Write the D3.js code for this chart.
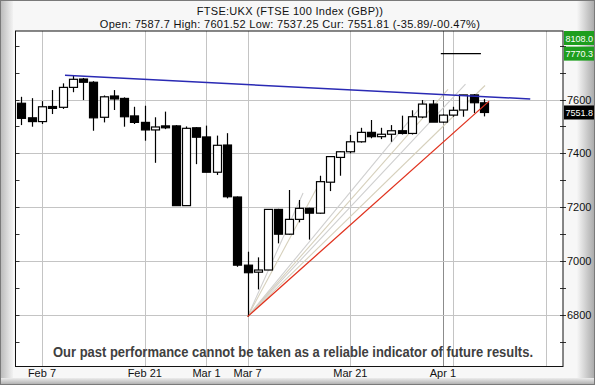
<!DOCTYPE html>
<html>
<head>
<meta charset="utf-8">
<script src="https://cdn.jsdelivr.net/npm/d3@7"></script>
<style>
  html, body { margin: 0; padding: 0; background: #fff; }
  svg { display: block; font-family: "Liberation Sans", Arial, sans-serif; }
</style>
</head>
<body>
<svg id="chart" width="595" height="385"></svg>
<script>
// daily candles, Feb 3 .. Apr 7 (trading day index = position)
const dates = ["Feb 3","Feb 4","Feb 7","Feb 8","Feb 9","Feb 10","Feb 11","Feb 14","Feb 15","Feb 16",
  "Feb 17","Feb 18","Feb 21","Feb 22","Feb 23","Feb 24","Feb 25","Feb 28","Mar 1","Mar 2",
  "Mar 3","Mar 4","Mar 7","Mar 8","Mar 9","Mar 10","Mar 11","Mar 14","Mar 15","Mar 16",
  "Mar 17","Mar 18","Mar 21","Mar 22","Mar 23","Mar 24","Mar 25","Mar 28","Mar 29","Mar 30",
  "Mar 31","Apr 1","Apr 4","Apr 5","Apr 6","Apr 7"];
const opens = [7586,7532,7518,7574,7571,7645,7676,7664,7534,7613,7604,7539,7515,7487,7502,7502,7206,7495,7461,7330,
  7431,7238,6985,6959,6967,7192,7100,7155,7196,7178,7293,7385,7406,7443,7478,7462,7471,7484,7474,7535,
  7583,7516,7542,7561,7617,7587.7];
const highs = [7610,7605,7594,7635,7660,7691,7680,7668,7615,7635,7608,7573,7577,7534,7555,7505,7500,7497,7503,7466,
  7475,7240,7035,7014,7192,7194,7264,7227,7198,7317,7390,7408,7468,7495,7524,7495,7505,7540,7560,7598,
  7598,7545,7573,7617,7620,7601.52];
const lows = [7505,7499,7509,7546,7565,7627,7598,7484,7515,7561,7499,7509,7447,7365,7490,7206,7206,7360,7330,7320,
  7233,6979,6794,6895,6967,7066,7098,7144,7080,7176,7260,7317,7400,7440,7456,7453,7443,7470,7470,7531,
  7518,7513,7536,7536,7550,7537.25];
const closes = [7530,7518,7573,7567,7645,7675,7664,7532,7610,7602,7536,7515,7487,7498,7495,7206,7493,7460,7330,7430,
  7239,6985,6957,6967,7192,7100,7155,7196,7178,7295,7388,7406,7443,7478,7462,7471,7484,7474,7536,7583,
  7516,7542,7560,7617,7588,7551.81];

// x axis
const tickIdx = [2, 12, 18, 22, 32, 41];
const tickLabels = ["Feb 7", "Feb 21", "Mar 1", "Mar 7", "Mar 21", "Apr 1"];
const gridIdx = [2, 12, 18, 22, 32, 42, 51];
const monthMarkIdx = [41];
// y axis
const yLabels = [6800, 7000, 7200, 7400, 7600];
const yMinor = [6700, 6800, 6900, 7000, 7100, 7200, 7300, 7400, 7500, 7600, 7700, 7800];

// drawn lines: [index, value]
const resistance = [[4.24, 7690], [49.5, 7602]];
const fanOrigin = [22, 6794];
const fanEnds = [[27.4, 7253], [29.0, 7290], [39.3, 7594], [41.5, 7638], [43.2, 7657], [45.1, 7652]];
const fanMain = [45.5, 7594];
const target = [[40.8, 7770], [44.7, 7770]];

// right side markers
const markerVals = [8108.03, 7770.30];
const current = 7551.81;

const svg = d3.select("#chart");
const W = 595, H = 385;
const plot = { left: 15.5, top: 31, right: 563, bottom: 366.5 };

const x = d3.scaleLinear().domain([0, 52]).range([21.4, 21.4 + 52 * 10.28]);
const y = d3.scaleLinear().domain([6800, 7600]).range([315, 99.5]);

// frame background
const defs = svg.append("defs");
const gradL = defs.append("linearGradient").attr("id", "gl").attr("x1", 0).attr("x2", 1);
gradL.append("stop").attr("offset", 0).attr("stop-color", "#b8b8b8");
gradL.append("stop").attr("offset", 1).attr("stop-color", "#f2f2f2");
const gradR = defs.append("linearGradient").attr("id", "gr").attr("x1", 0).attr("x2", 1);
gradR.append("stop").attr("offset", 0).attr("stop-color", "#f6f6f6");
gradR.append("stop").attr("offset", 1).attr("stop-color", "#a8a8a8");
const gradB = defs.append("linearGradient").attr("id", "gb").attr("x1", 0).attr("x2", 0).attr("y1", 0).attr("y2", 1);
gradB.append("stop").attr("offset", 0).attr("stop-color", "#ececec");
gradB.append("stop").attr("offset", 1).attr("stop-color", "#a8a8a8");

svg.append("rect").attr("width", W).attr("height", H).attr("fill", "#f7f7f7");
svg.append("rect").attr("x", 0).attr("y", 0).attr("width", 13).attr("height", H).attr("fill", "url(#gl)");
svg.append("rect").attr("x", 577).attr("y", 0).attr("width", 18).attr("height", H).attr("fill", "url(#gr)");
svg.append("rect").attr("x", 0).attr("y", 378).attr("width", W).attr("height", 7).attr("fill", "url(#gb)");
svg.append("rect").attr("x", 0.5).attr("y", 0.5).attr("width", W - 1).attr("height", H - 1)
  .attr("fill", "none").attr("stroke", "#7a7a7a");

// plot area
svg.append("rect")
  .attr("x", plot.left).attr("y", plot.top)
  .attr("width", plot.right - plot.left).attr("height", plot.bottom - plot.top)
  .attr("fill", "#fff");

const g = svg.append("g");

// grid
g.selectAll(".vgrid").data(gridIdx).enter().append("line")
  .attr("x1", (d) => Math.round(x(d)) + 0.5).attr("x2", (d) => Math.round(x(d)) + 0.5)
  .attr("y1", plot.top).attr("y2", plot.bottom)
  .attr("stroke", "#c4c4c4");
g.selectAll(".mgrid").data(monthMarkIdx).enter().append("line")
  .attr("x1", (d) => Math.round(x(d)) + 0.5).attr("x2", (d) => Math.round(x(d)) + 0.5)
  .attr("y1", plot.top).attr("y2", plot.bottom)
  .attr("stroke", "#8c8c8c");
g.selectAll(".hgrid").data(yLabels).enter().append("line")
  .attr("x1", plot.left).attr("x2", plot.right)
  .attr("y1", (d) => Math.round(y(d)) + 0.5).attr("y2", (d) => Math.round(y(d)) + 0.5)
  .attr("stroke", "#c4c4c4");

// small ticks on both sides
const inside = yMinor.filter((v) => y(v) > plot.top && y(v) < plot.bottom);
g.selectAll(".lt").data(inside).enter().append("line")
  .attr("x1", plot.left).attr("x2", plot.left + 4)
  .attr("y1", (d) => Math.round(y(d)) + 0.5).attr("y2", (d) => Math.round(y(d)) + 0.5)
  .attr("stroke", "#333");
g.selectAll(".rt").data(inside).enter().append("line")
  .attr("x1", plot.right - 3).attr("x2", plot.right + 3)
  .attr("y1", (d) => Math.round(y(d)) + 0.5).attr("y2", (d) => Math.round(y(d)) + 0.5)
  .attr("stroke", "#333");

// fan lines
g.selectAll(".fan").data(fanEnds).enter().append("line")
  .attr("x1", x(fanOrigin[0])).attr("y1", y(fanOrigin[1]))
  .attr("x2", (d) => x(d[0])).attr("y2", (d) => y(d[1]))
  .attr("stroke", (d, i) => (i % 2 ? "#d6d0bc" : "#cfcfcf"))
  .attr("stroke-width", 1.1);

// candles
const candles = dates.map((d, i) => ({ i, o: opens[i], h: highs[i], l: lows[i], c: closes[i] }));
const cw = 8;
const cg = g.selectAll(".candle").data(candles).enter().append("g");
cg.append("line")
  .attr("x1", (d) => Math.round(x(d.i)) + 0.5).attr("x2", (d) => Math.round(x(d.i)) + 0.5)
  .attr("y1", (d) => y(d.h)).attr("y2", (d) => y(d.l))
  .attr("stroke", "#000").attr("stroke-width", 1.2);
cg.append("rect")
  .attr("x", (d) => Math.round(x(d.i)) - cw / 2 + 0.5)
  .attr("y", (d) => y(Math.max(d.o, d.c)))
  .attr("width", cw)
  .attr("height", (d) => Math.max(1.5, y(Math.min(d.o, d.c)) - y(Math.max(d.o, d.c))))
  .attr("fill", (d) => (d.c >= d.o ? "#fff" : "#000"))
  .attr("stroke", "#000").attr("stroke-width", 1.2);

// trend lines
g.append("line")
  .attr("x1", x(resistance[0][0])).attr("y1", y(resistance[0][1]))
  .attr("x2", x(resistance[1][0])).attr("y2", y(resistance[1][1]))
  .attr("stroke", "#2a2ab4").attr("stroke-width", 1.5);
g.append("line")
  .attr("x1", x(fanOrigin[0])).attr("y1", y(fanOrigin[1]))
  .attr("x2", x(fanMain[0])).attr("y2", y(fanMain[1]))
  .attr("stroke", "#e0321e").attr("stroke-width", 1.3);
g.append("line")
  .attr("x1", x(target[0][0])).attr("y1", y(target[0][1]))
  .attr("x2", x(target[1][0])).attr("y2", y(target[1][1]))
  .attr("stroke", "#000").attr("stroke-width", 1.2);

// plot border
svg.append("rect")
  .attr("x", plot.left).attr("y", plot.top)
  .attr("width", plot.right - plot.left).attr("height", plot.bottom - plot.top)
  .attr("fill", "none").attr("stroke", "#111");

// right axis labels
svg.selectAll(".yl").data(yLabels).enter().append("text")
  .attr("x", 567).attr("y", (d) => y(d) + 4)
  .attr("font-size", 11).attr("fill", "#111")
  .text((d) => d);

// marker boxes
const boxH = 14, boxW = 30;
const markerY = markerVals.map((v) => Math.max(plot.top + boxH / 2, y(v)));
markerY.forEach((my, i) => {
  const yy = i === 1 ? Math.max(my, markerY[0] + boxH + 1) : my;
  svg.append("rect").attr("x", 564).attr("y", yy - boxH / 2).attr("width", boxW).attr("height", boxH)
    .attr("fill", "#1e9e1e");
  svg.append("text").attr("x", 565.5).attr("y", yy + 3.5).attr("font-size", 9).attr("fill", "#fff")
    .text(markerVals[i].toFixed(1));
});
svg.append("rect").attr("x", 564).attr("y", y(current) - boxH / 2).attr("width", boxW).attr("height", boxH)
  .attr("fill", "#000");
svg.append("text").attr("x", 565.5).attr("y", y(current) + 3.5).attr("font-size", 9).attr("fill", "#fff")
  .text(current.toFixed(1));

// x axis labels
svg.selectAll(".xl").data(tickIdx).enter().append("text")
  .attr("x", (d) => x(d)).attr("y", 377)
  .attr("text-anchor", "middle").attr("font-size", 11).attr("fill", "#111")
  .text((d, i) => tickLabels[i]);

// header
svg.append("text").attr("x", 290).attr("y", 15).attr("text-anchor", "middle")
  .attr("font-size", 11).attr("fill", "#111").attr("letter-spacing", 0.3)
  .text("FTSE:UKX (FTSE 100 Index (GBP))");
svg.append("text").attr("x", 290).attr("y", 28).attr("text-anchor", "middle")
  .attr("font-size", 11).attr("fill", "#111").attr("letter-spacing", 0.3)
  .text("Open: 7587.7 High: 7601.52 Low: 7537.25 Cur: 7551.81 (-35.89/-00.47%)");

// disclaimer
svg.append("text").attr("x", 53).attr("y", 357)
  .attr("font-size", 14.5).attr("font-weight", "bold").attr("fill", "#404040")
  .attr("textLength", 480).attr("lengthAdjust", "spacingAndGlyphs")
  .text("Our past performance cannot be taken as a reliable indicator of future results.");
</script>
</body>
</html>
